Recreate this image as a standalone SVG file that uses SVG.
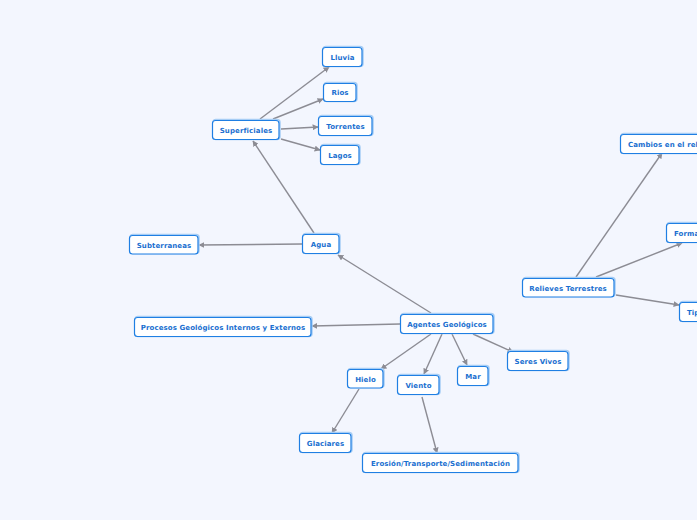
<svg xmlns="http://www.w3.org/2000/svg" width="697" height="520" viewBox="0 0 697 520">
<defs>
<style>
.bg{fill:#f3f6fe}
.sh{fill:none;stroke:#a6cdf5;stroke-width:1.5}
.bx{fill:#ffffff;stroke:#1f7fe3;stroke-width:1.2}
.t{font-family:"DejaVu Sans",Verdana,sans-serif;font-size:7px;font-weight:bold;fill:#1a6fd0;text-anchor:middle;letter-spacing:0.1px}
.c path{fill:none;stroke:#8c8c94;stroke-width:1.4}
</style>
<marker id="a" viewBox="0 0 10 10" refX="9" refY="5" markerWidth="6" markerHeight="6" markerUnits="userSpaceOnUse" orient="auto">
<path d="M0,0 L10,5 L0,10 z" fill="#8c8c94"/>
</marker>
</defs>
<rect class="bg" x="0" y="0" width="697" height="520"/>
<g class="c">
<path d="M431,313 L338,255" marker-end="url(#a)"/>
<path d="M314,233 L253,141" marker-end="url(#a)"/>
<path d="M302,244 L199,245" marker-end="url(#a)"/>
<path d="M260,119 L329,67" marker-end="url(#a)"/>
<path d="M273,119 L323,99" marker-end="url(#a)"/>
<path d="M281,129 L318,127" marker-end="url(#a)"/>
<path d="M281,139 L320,150" marker-end="url(#a)"/>
<path d="M400,324 L312,326" marker-end="url(#a)"/>
<path d="M431,334 L381,369" marker-end="url(#a)"/>
<path d="M442,334 L424,374" marker-end="url(#a)"/>
<path d="M452,334 L467,365" marker-end="url(#a)"/>
<path d="M473,334 L513,352" marker-end="url(#a)"/>
<path d="M359,389 L332,433" marker-end="url(#a)"/>
<path d="M422,397 L437,453" marker-end="url(#a)"/>
<path d="M576,277 L662,153" marker-end="url(#a)"/>
<path d="M596,277 L682,243" marker-end="url(#a)"/>
<path d="M616,295 L679,305" marker-end="url(#a)"/>
</g>
<g id="lluvia"><rect class="sh" x="323" y="46.5" width="40" height="20" rx="3"/><rect class="bx" x="322.5" y="47.5" width="39.5" height="19" rx="3"/><text class="t" x="342.5" y="59.5">Lluvia</text></g>
<g id="rios"><rect class="sh" x="324" y="82.5" width="33" height="19" rx="3"/><rect class="bx" x="323.5" y="83.5" width="32.5" height="18" rx="3"/><text class="t" x="340" y="95">Rios</text></g>
<g id="torrentes"><rect class="sh" x="319" y="115.5" width="54" height="20" rx="3"/><rect class="bx" x="318.5" y="116.5" width="53.5" height="19" rx="3"/><text class="t" x="345.5" y="128.5">Torrentes</text></g>
<g id="lagos"><rect class="sh" x="321" y="144.5" width="39" height="20" rx="3"/><rect class="bx" x="320.5" y="145.5" width="38.5" height="19" rx="3"/><text class="t" x="340" y="157.5">Lagos</text></g>
<g id="superficiales"><rect class="sh" x="213" y="119.5" width="67" height="20" rx="3"/><rect class="bx" x="212.5" y="120.5" width="66.5" height="19" rx="3"/><text class="t" x="246" y="132.5">Superficiales</text></g>
<g id="subterraneas"><rect class="sh" x="130" y="234.5" width="69" height="19" rx="3"/><rect class="bx" x="129.5" y="235.5" width="68.5" height="18.5" rx="3"/><text class="t" x="164" y="247.5">Subterraneas</text></g>
<g id="agua"><rect class="sh" x="303" y="233.5" width="37" height="20" rx="3"/><rect class="bx" x="302.5" y="234.5" width="36.5" height="19" rx="3"/><text class="t" x="321" y="246.5">Agua</text></g>
<g id="procesos"><rect class="sh" x="135" y="316.5" width="177" height="20" rx="3"/><rect class="bx" x="134.5" y="317.5" width="176.5" height="19" rx="3"/><text class="t" x="223" y="329.5">Procesos Geológicos Internos y Externos</text></g>
<g id="agentes"><rect class="sh" x="401" y="313.5" width="93" height="20" rx="3"/><rect class="bx" x="400.5" y="314.5" width="92.5" height="19" rx="3"/><text class="t" x="447" y="326.5">Agentes Geológicos</text></g>
<g id="hielo"><rect class="sh" x="348" y="368.5" width="36" height="19" rx="3"/><rect class="bx" x="347.5" y="369.5" width="35.5" height="18.5" rx="3"/><text class="t" x="365.5" y="381.5">Hielo</text></g>
<g id="viento"><rect class="sh" x="398" y="374.5" width="42" height="20" rx="3"/><rect class="bx" x="397.5" y="375.5" width="41.5" height="19" rx="3"/><text class="t" x="418.5" y="387.5">Viento</text></g>
<g id="mar"><rect class="sh" x="458" y="365.5" width="31" height="20" rx="3"/><rect class="bx" x="457.5" y="366.5" width="30.5" height="19" rx="3"/><text class="t" x="473" y="378.5">Mar</text></g>
<g id="seres"><rect class="sh" x="508" y="350.5" width="61" height="20" rx="3"/><rect class="bx" x="507.5" y="351.5" width="60.5" height="19" rx="3"/><text class="t" x="538" y="363.5">Seres Vivos</text></g>
<g id="glaciares"><rect class="sh" x="300" y="432.5" width="52" height="20" rx="3"/><rect class="bx" x="299.5" y="433.5" width="51.5" height="19" rx="3"/><text class="t" x="325.5" y="445.5">Glaciares</text></g>
<g id="erosion"><rect class="sh" x="363" y="452.5" width="156" height="20" rx="3"/><rect class="bx" x="362.5" y="453.5" width="155.5" height="19" rx="3"/><text class="t" x="440.5" y="465.5">Erosión/Transporte/Sedimentación</text></g>
<g id="relieves"><rect class="sh" x="523" y="277.5" width="92" height="19" rx="3"/><rect class="bx" x="522.5" y="278.5" width="91.5" height="18.5" rx="3"/><text class="t" x="568" y="290.5">Relieves Terrestres</text></g>
<g id="cambios"><rect class="sh" x="621" y="133.5" width="120" height="20" rx="3"/><rect class="bx" x="620.5" y="134.5" width="119.5" height="19" rx="3"/><text class="t" x="628" y="146.5" style="text-anchor:start">Cambios en el relieve</text></g>
<g id="formas"><rect class="sh" x="667" y="222.5" width="90" height="20" rx="3"/><rect class="bx" x="666.5" y="223.5" width="89.5" height="19" rx="3"/><text class="t" x="674" y="235.5" style="text-anchor:start">Formas de relieve</text></g>
<g id="tipos"><rect class="sh" x="680" y="301.5" width="90" height="20" rx="3"/><rect class="bx" x="679.5" y="302.5" width="89.5" height="19" rx="3"/><text class="t" x="687" y="314.5" style="text-anchor:start">Tipos de relieve</text></g>
</svg>
